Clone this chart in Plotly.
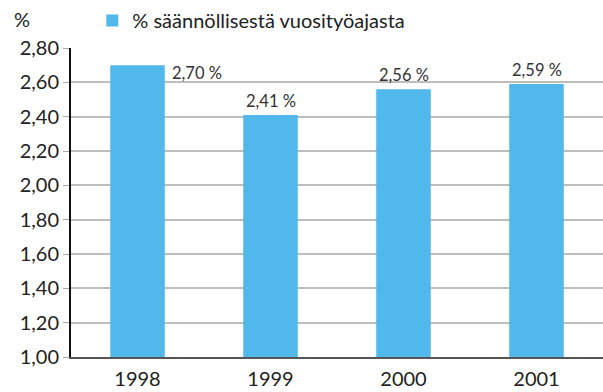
import plotly.graph_objects as go

years = ["1998", "1999", "2000", "2001"]
values = [2.70, 2.41, 2.56, 2.59]
series_name = "% säännöllisestä vuosityöajasta"
y_ticks = [1.0, 1.2, 1.4, 1.6, 1.8, 2.0, 2.2, 2.4, 2.6, 2.8]

bar_color = "#50B8EA"
font_family = "Lato, Open Sans, sans-serif"

fig = go.Figure()
fig.add_trace(go.Bar(
    x=years, y=values, name=series_name,
    marker=dict(color=bar_color, line=dict(width=0)),
    showlegend=True,
))

# value labels: first one sits beside the bar, the rest above
# (x given as category index so numeric-looking names aren't read as positions)
for i, v in enumerate(values):
    label = f"{v:.2f}".replace(".", ",") + " %"
    if i == 0:
        fig.add_annotation(x=i, y=v, text=label, showarrow=False,
                           xanchor="left", yanchor="top", xshift=32, yshift=4,
                           font=dict(size=16.5, color="#333333", family=font_family))
    else:
        fig.add_annotation(x=i, y=v, text=label, showarrow=False,
                           xanchor="center", yanchor="bottom", yshift=2,
                           font=dict(size=16.5, color="#333333", family=font_family))

fig.add_annotation(xref="paper", yref="paper", x=-0.093, y=1.05,
                   text="%", showarrow=False, xanchor="center", yanchor="bottom",
                   font=dict(size=20, color="#222222", family=font_family))

fig.update_layout(
    width=603, height=392,
    margin=dict(l=71, r=0, t=48, b=35, autoexpand=False),
    paper_bgcolor="white", plot_bgcolor="white",
    separators=", ",
    bargap=0.59,
    font=dict(family=font_family, size=20, color="#222222"),
    legend=dict(orientation="h", x=0.04, xanchor="left",
                yref="container", y=0.948, yanchor="middle",
                font=dict(size=20, color="#222222", family=font_family),
                bgcolor="rgba(0,0,0,0)", itemwidth=30),
    xaxis=dict(type="category", range=[-0.5, 3.5], showline=True,
               linecolor="#555555", linewidth=2, ticklabelstandoff=3,
               ticks="", tickfont=dict(size=20), showgrid=False),
    yaxis=dict(range=[1.0, 2.8], tickvals=y_ticks, tickformat=".2f",
               showline=True, linecolor="#111111", linewidth=2,
               ticks="outside", ticklen=6, tickcolor="#aaaaaa",
               showgrid=True, gridcolor="#BDBDBD", gridwidth=1.5,
               zeroline=False, tickfont=dict(size=20)),
)

fig.write_html("out.html")
